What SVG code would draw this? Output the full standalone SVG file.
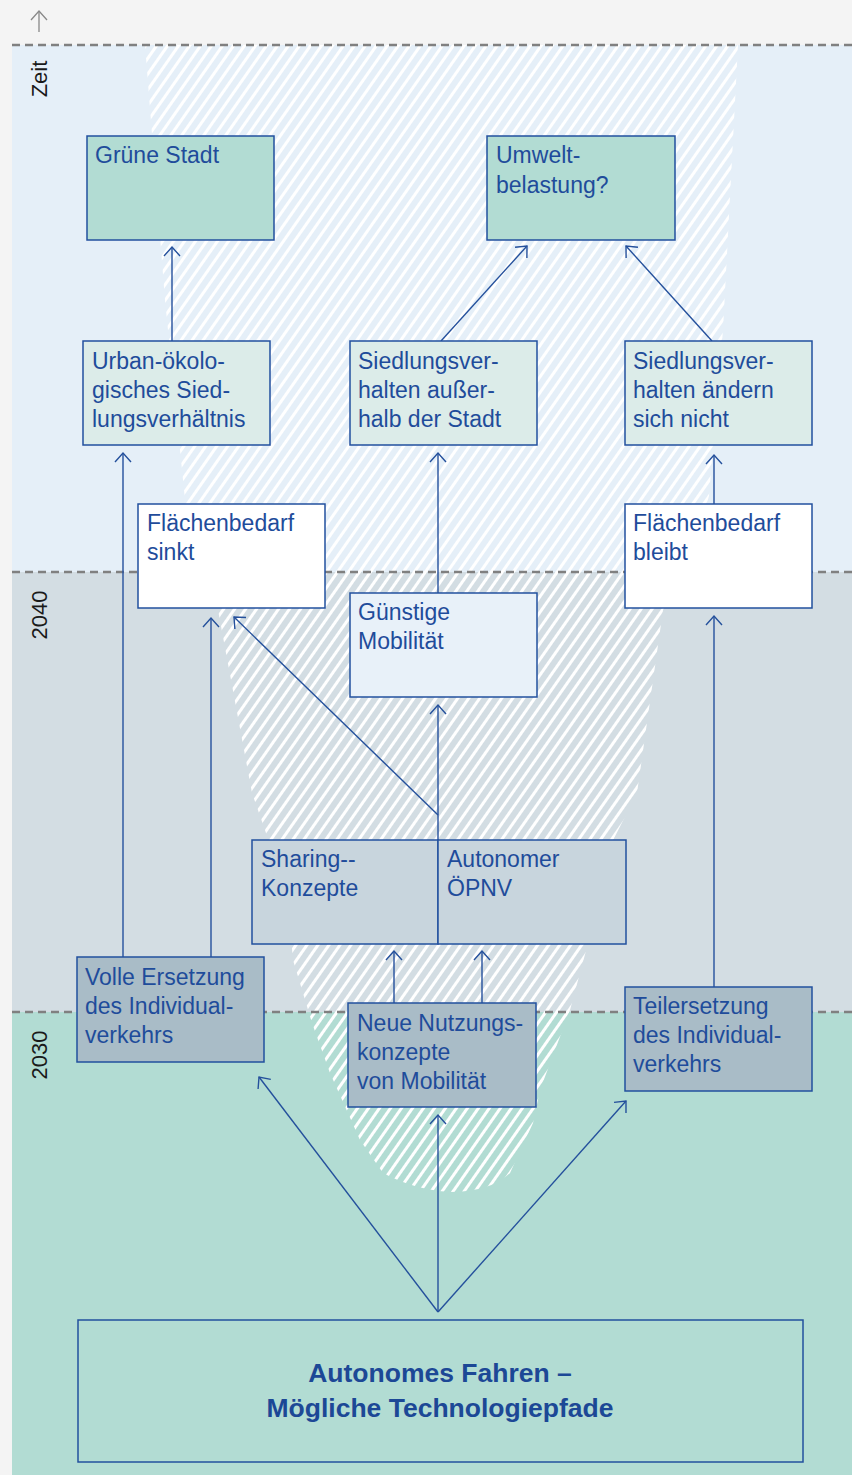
<svg xmlns="http://www.w3.org/2000/svg" width="852" height="1475" viewBox="0 0 852 1475">
<style>
.box{stroke:#22509e;stroke-width:1.5}
.t{font-family:"Liberation Sans",Arial,sans-serif;font-size:23px;fill:#1f4c9b}
.tb{font-family:"Liberation Sans",Arial,sans-serif;font-size:26.5px;font-weight:bold;fill:#1c4896;text-anchor:middle}
.yr{font-family:"Liberation Sans",Arial,sans-serif;font-size:22px;fill:#1a1a1a;text-anchor:middle}
.dash{stroke:#808080;stroke-width:2.4;stroke-dasharray:8 5;fill:none}
.c{stroke:#24509c;stroke-width:1.4;fill:none;marker-end:url(#ah)}
</style>
<defs>
<pattern id="hatch" patternUnits="userSpaceOnUse" width="9" height="9" patternTransform="rotate(35)">
<rect x="0" y="0" width="3" height="9" fill="#ffffff"/>
</pattern>
<marker id="ah" markerUnits="userSpaceOnUse" markerWidth="12" markerHeight="20" refX="10" refY="9" orient="auto" viewBox="0 0 12 20">
<path d="M1,1 L10,9 L1,17" fill="none" stroke="#24509c" stroke-width="1.4"/>
</marker>
<marker id="ahg" markerUnits="userSpaceOnUse" markerWidth="12" markerHeight="20" refX="10" refY="9" orient="auto" viewBox="0 0 12 20">
<path d="M1,1 L10,9 L1,17" fill="none" stroke="#888888" stroke-width="1.3"/>
</marker>
</defs>

<g id="background">
<rect x="0" y="0" width="852" height="1475" fill="#f4f4f4"/>
<rect x="12" y="45" width="840" height="527" fill="#e5eff8"/>
<rect x="12" y="572" width="840" height="440" fill="#d3dde3"/>
<rect x="12" y="1012" width="840" height="463" fill="#b2dcd3"/>
<path d="M145,45 L738,45 L723,330 L709,496 L690,560 L663,610 L637,793 L603,860 L587,893 L587,947 L570,1010 L540,1090 L533,1123 L510,1173 Q490,1192 450,1192 Q415,1190 383,1173 L360,1140 L330,1073 L312,1023 L293,960 L287,893 L252,793 L218,610 L192,570 L165,300 Z" fill="url(#hatch)"/>
<line class="dash" x1="12" y1="45" x2="852" y2="45"/>
<line class="dash" x1="12" y1="572" x2="852" y2="572"/>
<line class="dash" x1="12" y1="1012" x2="852" y2="1012"/>
<line x1="39" y1="32" x2="39" y2="11" stroke="#888888" stroke-width="1.3" marker-end="url(#ahg)"/>
<text class="yr" transform="translate(47,79) rotate(-90)">Zeit</text>
<text class="yr" transform="translate(47,615) rotate(-90)">2040</text>
<text class="yr" transform="translate(47,1055) rotate(-90)">2030</text>
</g>

<g id="connectors">
<line class="c" x1="172" y1="341" x2="172" y2="247"/>
<line class="c" x1="441" y1="341" x2="527" y2="246"/>
<line class="c" x1="712" y1="341" x2="626" y2="246"/>
<line class="c" x1="123" y1="957" x2="123" y2="453"/>
<line class="c" x1="211" y1="957" x2="211" y2="618"/>
<line class="c" x1="438" y1="815" x2="234" y2="617"/>
<line class="c" x1="438" y1="840" x2="438" y2="705"/>
<line class="c" x1="438" y1="593" x2="438" y2="453"/>
<line class="c" x1="394" y1="1003" x2="394" y2="951"/>
<line class="c" x1="482" y1="1003" x2="482" y2="951"/>
<line class="c" x1="714" y1="987" x2="714" y2="616"/>
<line class="c" x1="714" y1="504" x2="714" y2="455"/>
<line class="c" x1="438" y1="1312" x2="438" y2="1115"/>
<line class="c" x1="438" y1="1312" x2="259" y2="1077"/>
<line class="c" x1="438" y1="1312" x2="626" y2="1101"/>
</g>

<g id="n-gruene-stadt">
<rect class="box" x="87" y="136" width="187" height="104" fill="#b2dcd3"/>
<text class="t" x="95" y="163">Grüne Stadt</text>
</g>
<g id="n-umweltbelastung">
<rect class="box" x="487" y="136" width="188" height="104" fill="#b2dcd3"/>
<text class="t" x="496" y="163">Umwelt-</text>
<text class="t" x="496" y="193">belastung?</text>
</g>
<g id="n-urban">
<rect class="box" x="83" y="341" width="187" height="104" fill="#dcece9"/>
<text class="t" x="92" y="369">Urban-ökolo-</text>
<text class="t" x="92" y="398">gisches Sied-</text>
<text class="t" x="92" y="427">lungsverhältnis</text>
</g>
<g id="n-siedlung-ausserhalb">
<rect class="box" x="350" y="341" width="187" height="104" fill="#dcece9"/>
<text class="t" x="358" y="369">Siedlungsver-</text>
<text class="t" x="358" y="398">halten außer-</text>
<text class="t" x="358" y="427">halb der Stadt</text>
</g>
<g id="n-siedlung-nicht">
<rect class="box" x="625" y="341" width="187" height="104" fill="#dcece9"/>
<text class="t" x="633" y="369">Siedlungsver-</text>
<text class="t" x="633" y="398">halten ändern</text>
<text class="t" x="633" y="427">sich nicht</text>
</g>
<g id="n-flaeche-sinkt">
<rect class="box" x="138" y="504" width="187" height="104" fill="#ffffff"/>
<text class="t" x="147" y="531">Flächenbedarf</text>
<text class="t" x="147" y="560">sinkt</text>
</g>
<g id="n-flaeche-bleibt">
<rect class="box" x="625" y="504" width="187" height="104" fill="#ffffff"/>
<text class="t" x="633" y="531">Flächenbedarf</text>
<text class="t" x="633" y="560">bleibt</text>
</g>
<g id="n-guenstige">
<rect class="box" x="350" y="593" width="187" height="104" fill="#e8f1f9"/>
<text class="t" x="358" y="620">Günstige</text>
<text class="t" x="358" y="649">Mobilität</text>
</g>
<g id="n-sharing">
<rect class="box" x="252" y="840" width="186" height="104" fill="#c8d5dd"/>
<text class="t" x="261" y="867">Sharing--</text>
<text class="t" x="261" y="896">Konzepte</text>
</g>
<g id="n-oepnv">
<rect class="box" x="438" y="840" width="188" height="104" fill="#c8d5dd"/>
<text class="t" x="447" y="867">Autonomer</text>
<text class="t" x="447" y="896">ÖPNV</text>
</g>
<g id="n-volle">
<rect class="box" x="77" y="957" width="187" height="105" fill="#a9bcc7"/>
<text class="t" x="85" y="985">Volle Ersetzung</text>
<text class="t" x="85" y="1014">des Individual-</text>
<text class="t" x="85" y="1043">verkehrs</text>
</g>
<g id="n-neue">
<rect class="box" x="348" y="1003" width="188" height="104" fill="#a9bcc7"/>
<text class="t" x="357" y="1031">Neue Nutzungs-</text>
<text class="t" x="357" y="1060">konzepte</text>
<text class="t" x="357" y="1089">von Mobilität</text>
</g>
<g id="n-teil">
<rect class="box" x="625" y="987" width="187" height="104" fill="#a9bcc7"/>
<text class="t" x="633" y="1014">Teilersetzung</text>
<text class="t" x="633" y="1043">des Individual-</text>
<text class="t" x="633" y="1072">verkehrs</text>
</g>
<g id="n-autonomes-fahren">
<rect class="box" x="78" y="1320" width="725" height="142" fill="none"/>
<text class="tb" x="440" y="1382">Autonomes Fahren –</text>
<text class="tb" x="440" y="1417">Mögliche Technologiepfade</text>
</g>
</svg>
